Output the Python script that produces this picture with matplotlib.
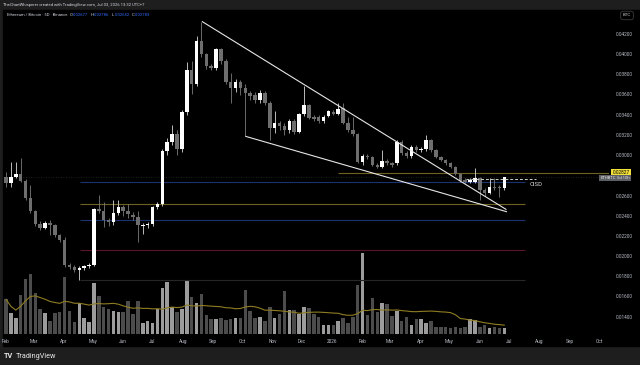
import matplotlib
matplotlib.use('Agg')
import matplotlib.pyplot as plt
import matplotlib.dates as mdates
import matplotlib.transforms as mtrans
from matplotlib.patches import Rectangle
import numpy as np
import pandas as pd
from datetime import datetime, timedelta

plt.rcParams['font.family'] = ['Roboto', 'DejaVu Sans']

# ---------------- data (5D bars, ETH/BTC) ----------------
start_date = datetime(2025, 2, 1)
bar_days = 5

opens = [0.02786,0.02720,0.02786,0.02810,0.02744,0.02572,0.02447,0.02315,0.02281,0.02331,
         0.02310,0.02209,0.02159,0.01912,0.01895,0.01862,0.01882,0.01898,0.01915,0.02463,
         0.02447,0.02357,0.02340,0.02430,0.02489,0.02450,0.02407,0.02390,0.02300,0.02308,
         0.02318,0.02483,0.02516,0.03044,0.03127,0.03209,0.03057,0.03430,0.03843,0.03704,
         0.04133,0.03997,0.03878,0.03862,0.04046,0.03931,0.03720,0.03661,0.03720,0.03661,
         0.03611,0.03600,0.03545,0.03613,0.03520,0.03265,0.03314,0.03290,0.03248,0.03340,
         0.03230,0.03405,0.03497,0.03382,0.03382,0.03340,0.03392,0.03428,0.03411,0.03470,
         0.03320,0.03248,0.03205,0.02927,0.02994,0.02977,0.02901,0.02885,0.02944,0.02917,
         0.02919,0.03134,0.03024,0.02990,0.03076,0.03050,0.03060,0.03150,0.03050,0.02984,
         0.02950,0.02917,0.02885,0.02812,0.02752,0.02736,0.02736,0.02769,0.02654,0.02620,
         0.02686,0.02680,0.02677]
highs = [0.02836,0.02935,0.02935,0.02968,0.02760,0.02700,0.02460,0.02350,0.02345,0.02360,
         0.02320,0.02220,0.02190,0.01930,0.01910,0.01900,0.01910,0.01930,0.02480,0.02606,
         0.02539,0.02380,0.02555,0.02555,0.02510,0.02520,0.02440,0.02450,0.02330,0.02340,
         0.02500,0.02540,0.03060,0.03166,0.03299,0.03250,0.03450,0.03921,0.03930,0.04180,
         0.04321,0.04010,0.03900,0.04060,0.04060,0.03950,0.03811,0.03750,0.03740,0.03700,
         0.03630,0.03620,0.03640,0.03630,0.03540,0.03438,0.03340,0.03320,0.03360,0.03360,
         0.03420,0.03685,0.03510,0.03400,0.03400,0.03400,0.03450,0.03450,0.03520,0.03520,
         0.03380,0.03380,0.03220,0.03010,0.03010,0.02990,0.02920,0.03050,0.02960,0.02930,
         0.03150,0.03150,0.03040,0.03100,0.03100,0.03080,0.03199,0.03160,0.03060,0.02990,
         0.02960,0.02930,0.02890,0.02820,0.02770,0.02770,0.02868,0.02780,0.02670,0.02770,
         0.02770,0.02700,0.02786]
lows = [0.02687,0.02680,0.02775,0.02730,0.02560,0.02430,0.02300,0.02260,0.02270,0.02210,
        0.02190,0.02140,0.01890,0.01870,0.01840,0.01763,0.01860,0.01880,0.01900,0.02430,
        0.02291,0.02300,0.02310,0.02410,0.02400,0.02380,0.02360,0.02143,0.02220,0.02280,
        0.02300,0.02470,0.02500,0.03000,0.03100,0.03001,0.03030,0.03400,0.03604,0.03680,
        0.03970,0.03850,0.03840,0.03840,0.03900,0.03700,0.03513,0.03620,0.03600,0.03185,
        0.03550,0.03520,0.03520,0.03500,0.03150,0.03220,0.03250,0.03200,0.03220,0.03210,
        0.03220,0.03390,0.03360,0.03340,0.03320,0.03320,0.03380,0.03400,0.03400,0.03310,
        0.03230,0.03190,0.02920,0.02900,0.02960,0.02890,0.02870,0.02870,0.02900,0.02880,
        0.02900,0.03000,0.02970,0.02970,0.03030,0.03030,0.03040,0.03030,0.02970,0.02940,
        0.02900,0.02870,0.02800,0.02730,0.02720,0.02720,0.02720,0.02554,0.02600,0.02610,
        0.02650,0.02581,0.02652]
closes = [0.02720,0.02786,0.02810,0.02744,0.02572,0.02447,0.02315,0.02281,0.02331,0.02310,
          0.02209,0.02159,0.01912,0.01895,0.01862,0.01885,0.01898,0.01915,0.02463,0.02447,
          0.02357,0.02340,0.02430,0.02489,0.02450,0.02420,0.02390,0.02308,0.02310,0.02318,
          0.02483,0.02516,0.03044,0.03127,0.03209,0.03057,0.03430,0.03843,0.03704,0.04133,
          0.03997,0.03878,0.03862,0.04046,0.03931,0.03720,0.03661,0.03720,0.03661,0.03611,
          0.03585,0.03545,0.03613,0.03520,0.03265,0.03314,0.03290,0.03248,0.03340,0.03230,
          0.03405,0.03497,0.03372,0.03362,0.03340,0.03382,0.03438,0.03411,0.03461,0.03320,
          0.03248,0.03205,0.02930,0.02995,0.02977,0.02901,0.02885,0.02944,0.02920,0.02900,
          0.03134,0.03024,0.02990,0.03076,0.03050,0.03060,0.03150,0.03050,0.02984,0.02950,
          0.02917,0.02885,0.02812,0.02743,0.02736,0.02752,0.02769,0.02654,0.02620,0.02686,
          0.02670,0.02670,0.02783]
volumes = [34.7,20.7,16.3,39,55,59.7,41.3,24.7,21.3,13,20.7,21.7,57.3,23.3,12.3,31.3,15.7,12.3,50.7,38.3,
           27.3,25,23.3,21.7,21.7,33,19.7,33,10.7,13.3,11.3,24.7,45.7,52.3,26.7,22,25.5,53,37.3,30.7,
           40,19.5,15,15.5,15.7,14,15.5,16.5,16.5,44,23.3,15.7,16.7,13.3,26.7,15.7,20,43,24,24,
           20,26.7,25.7,19.7,16.7,8.7,8.7,9.3,12.7,16,11.3,17.3,48.7,80.7,19,35.7,22,31.3,29.7,18,
           23.3,13.3,16.7,9,14.7,14.7,11.3,13.3,6.7,6.7,6.7,5.7,6.7,5.7,6.7,15,14,6.7,9,5.7,
           7.3,5.7,6]
vol_ma_len = 20

# price levels (horizontal drawings)
level_prices = [0.02737, 0.02516, 0.02362, 0.02065, 0.01763]
level_colors = ['#1d3370', '#6e6220', '#1d3370', '#5a1428', '#262626']
yellow_level = 0.02827
cisd_level = 0.02768
last_close = closes[-1]

# trendlines (bar index, price)
upper_tl = [(40.2, 0.04321), (102.35, 0.02463)]
lower_tl = [(49.1, 0.03185), (102.45, 0.02440)]

price_ticks = [0.042, 0.040, 0.038, 0.036, 0.034, 0.032, 0.030,
               0.026, 0.024, 0.022, 0.020, 0.018, 0.016, 0.014]

ohlc_labels = ['O', 'H', 'L', 'C']
ohlc_values = ['0.02677', '0.02786', '0.02652', '0.02783']

# ---------------- figure ----------------
W, H = 640, 365
fig = plt.figure(figsize=(6.4, 3.65), dpi=100, facecolor='#1e1e1e')

def fx(px):
    return px / W

def fy(py):
    return 1 - py / H

fig.patches.append(Rectangle((fx(3), fy(346)), fx(637), (346 - 9.5) / H,
                             transform=fig.transFigure, color='black', zorder=-100))

axv = fig.add_axes([fx(3), fy(336), 606 / W, (336 - 12) / H], zorder=1)
ax = fig.add_axes([fx(3), fy(336), 606 / W, (336 - 12) / H], zorder=2)
for a in (ax, axv):
    a.set_facecolor('none')
    for s in a.spines.values():
        s.set_visible(False)

n = len(opens)
base = mdates.date2num(start_date)
xs = np.array([mdates.date2num(start_date + timedelta(days=bar_days * i)) for i in range(n)])
px_per_day = 0.977

def idx_to_x(i):
    return base + bar_days * i

o = np.array(opens); h = np.array(highs); l = np.array(lows); c = np.array(closes)
up = c >= o
body_w = 3.6
wick_col = np.where(up, '#d8d8d8', '#7a7a7a')
body_col = np.where(up, '#ffffff', '#6e6e6e')
ax.vlines(xs, l, h, colors=wick_col, linewidth=0.6, zorder=3)
bh = np.maximum(np.abs(c - o), 0.00008)
ax.bar(xs, bh, bottom=np.minimum(o, c), width=body_w, color=body_col,
       linewidth=0, zorder=4)

xlim = (base - 3 / px_per_day, base + 603 / px_per_day)
ax.set_xlim(*xlim)
ax.set_ylim(0.014 + (316.7 - 336) / 10100, 0.014 + (316.7 - 12) / 10100)

# volume pane
axv.set_xlim(*xlim)
axv.set_ylim(-2, 322)
axv.axis('off')
vol = np.array(volumes)
axv.bar(xs, vol, width=body_w, color=np.where(up, '#9c9c9c', '#4c4c4c'), linewidth=0, zorder=1)
vma = pd.Series(vol).rolling(vol_ma_len, min_periods=1).mean()
axv.plot(xs, vma, color='#8f7d22', linewidth=0.8, zorder=2)

# horizontal levels
lvl_x0 = idx_to_x(15.15)
lvl_x1 = idx_to_x(106.2)
for p, col in zip(level_prices, level_colors):
    ax.hlines(p, lvl_x0, lvl_x1, colors=col, linewidth=0.8, zorder=2)
ax.hlines(yellow_level, idx_to_x(68), xlim[1], colors='#6e6220', linewidth=0.8, zorder=2)
ax.hlines(last_close, xlim[0], xlim[1], colors='#2a2a2a',
          linewidth=0.6, linestyles=(0, (1, 2)), zorder=1)
ax.hlines(cisd_level, idx_to_x(94.2), idx_to_x(108.5), colors='#cfcfcf',
          linewidth=0.7, linestyles=(0, (3, 2)), zorder=5)
ax.text(idx_to_x(107.2), cisd_level - 0.0006, 'CISD', color='#d8d8d8', fontsize=4.3,
        ha='left', va='center', zorder=6)

# trendlines
for tl in (upper_tl, lower_tl):
    ax.plot([idx_to_x(tl[0][0]), idx_to_x(tl[1][0])], [tl[0][1], tl[1][1]],
            color='#e6e6e6', linewidth=0.8, zorder=5)

# x axis
months = pd.date_range('2025-02-01', '2026-10-01', freq='MS')
ax.set_xticks([mdates.date2num(m.to_pydatetime()) for m in months])
ax.set_xticklabels(['2026' if m.month == 1 else m.strftime('%b') for m in months])
ax.tick_params(axis='x', length=0, pad=2.2, labelsize=3.4, labelcolor='#b8bcc6')

# y axis
ax.yaxis.tick_right()
ax.set_yticks(price_ticks)
ax.set_yticklabels(['%.5f' % p for p in price_ticks])
ax.tick_params(axis='y', length=0, pad=4.5, labelsize=3.4, labelcolor='#b8bcc6')

bt = mtrans.blended_transform_factory(ax.transAxes, ax.transData)
ax.text(1.006, yellow_level, '0.02827', transform=bt, fontsize=3.4, color='black',
        ha='left', va='center', bbox=dict(boxstyle='square,pad=0.3', fc='#f2e13a', ec='none'))
ax.text(0.9855, last_close - 0.0001, 'ETHBTC', transform=bt, fontsize=3.0, color='#e0e0e0',
        ha='left', va='center', bbox=dict(boxstyle='square,pad=0.3', fc='#5d5f66', ec='none'))
ax.text(1.013, last_close - 0.0001, '5d 10h', transform=bt, fontsize=3.0, color='#e0e0e0',
        ha='left', va='center', bbox=dict(boxstyle='square,pad=0.3', fc='#5d5f66', ec='none'))

# header texts
fig.text(fx(3), fy(4.6), 'TheChartWhisperer created with TradingView.com, Jul 03, 2026 13:32 UTC+7',
         fontsize=3.0, color='#cfd2d9', va='center', ha='left')

renderer = fig.canvas.get_renderer()
yl = fy(15.3)
cur = 7.0
pieces = [('Ethereum / Bitcoin · 5D · Binance', '#d1d4dc', 2.0)]
for lab, val in zip(ohlc_labels, ohlc_values):
    pieces.append((lab, '#d1d4dc', 0.8))
    pieces.append((val, '#2f6bff', 2.0))
for txt, col, gap in pieces:
    t = fig.text(fx(cur), yl, txt, fontsize=3.0, color=col, va='center', ha='left')
    bb = t.get_window_extent(renderer=renderer)
    cur += bb.width + gap

fig.text(fx(627), fy(15.5), 'BTC', fontsize=3.2, color='#c8c8c8', ha='center', va='center',
         bbox=dict(boxstyle='round,pad=0.5', fc='black', ec='#3a3a3a', lw=0.6))

fig.text(fx(4), fy(356.5), 'TV', fontsize=5.2, color='#e8e8e8', va='center', ha='left', fontweight='bold')
fig.text(fx(16), fy(356.5), 'TradingView', fontsize=5.2, color='#e8e8e8', va='center', ha='left')

fig.savefig('out.png', dpi=100, facecolor=fig.get_facecolor())
